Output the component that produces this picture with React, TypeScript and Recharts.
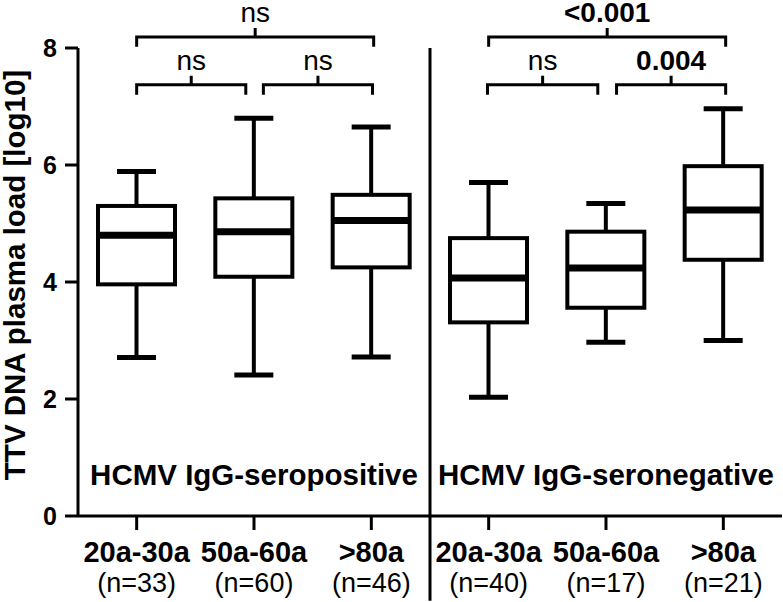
import React from "react";
import {
  ComposedChart, Bar, XAxis, YAxis, ReferenceLine, ReferenceArea, ReferenceDot,
} from "recharts";

// age groups, two serostatus panels
const ageGroups = ["20a-30a", "50a-60a", ">80a", "20a-30a", "50a-60a", ">80a"];
const nLabels = ["(n=33)", "(n=60)", "(n=46)", "(n=40)", "(n=17)", "(n=21)"];

// box plot values, TTV DNA log10
const mins    = [2.71, 2.41, 2.72, 2.03, 2.97, 3.0];
const q1s     = [3.96, 4.09, 4.25, 3.31, 3.56, 4.38];
const medians = [4.8, 4.86, 5.05, 4.07, 4.24, 5.23];
const q3s     = [5.3, 5.43, 5.49, 4.75, 4.86, 5.98];
const maxs    = [5.89, 6.8, 6.65, 5.7, 5.34, 6.96];

const yTicks = [0, 2, 4, 6, 8];

const panelLabels = ["HCMV IgG-seropositive", "HCMV IgG-seronegative"];

// significance brackets, x in group units (group i centred at i + 0.5)
const bracketFrom   = [0.5, 1.58, 0.5, 3.49, 4.59, 3.5];
const bracketTo     = [1.43, 2.51, 2.52, 4.43, 5.52, 5.52];
const bracketLevel  = [7.37, 7.37, 8.19, 7.37, 7.37, 8.19];
const bracketLabels = ["ns", "ns", "ns", "ns", "0.004", "<0.001"];
const bracketBold   = [false, false, false, false, true, true];

const data = ageGroups.map((age, i) => ({
  id: `g${i}`,
  pos: i + 0.5,
  age,
  n: nLabels[i],
  min: mins[i],
  q1: q1s[i],
  median: medians[i],
  q3: q3s[i],
  max: maxs[i],
}));

const FONT = "'Liberation Sans', Arial, sans-serif";

function BoxShape(props: any) {
  const { x, y, width, height, payload } = props;
  const { min, q1, median, q3, max } = payload;
  const py = (v: number) => y + ((max - v) / (max - min)) * height;
  const cx = x + width / 2;
  const cap = 19.5;
  return (
    <g>
      <line x1={cx} x2={cx} y1={py(max)} y2={py(q3)} stroke="#000" strokeWidth={4} />
      <line x1={cx} x2={cx} y1={py(q1)} y2={py(min)} stroke="#000" strokeWidth={4} />
      <line x1={cx - cap} x2={cx + cap} y1={py(max)} y2={py(max)} stroke="#000" strokeWidth={5} />
      <line x1={cx - cap} x2={cx + cap} y1={py(min)} y2={py(min)} stroke="#000" strokeWidth={5} />
      <rect x={x + 2} y={py(q3)} width={width - 4} height={py(q1) - py(q3)} fill="#fff" stroke="#000" strokeWidth={4} />
      <line x1={x + 2} x2={x + width - 2} y1={py(median)} y2={py(median)} stroke="#000" strokeWidth={7} />
    </g>
  );
}

function XTick(props: any) {
  const { x, y, payload } = props;
  const i = payload.index;
  return (
    <g transform={`translate(${x},${y})`}>
      <text textAnchor="middle" y={32} fontFamily={FONT} fontWeight="bold" fontSize={29} fill="#000">
        {ageGroups[i]}
      </text>
      <text textAnchor="middle" y={62} fontFamily={FONT} fontSize={27} fill="#000">
        {nLabels[i]}
      </text>
    </g>
  );
}

function bracketShape(label: string, bold: boolean) {
  return (props: any) => {
    const { x, y, width, height } = props;
    const cx = x + width / 2;
    return (
      <g>
        <path
          d={`M${x},${y + height} L${x},${y} L${x + width},${y} L${x + width},${y + height} M${cx},${y} L${cx},${y - 9}`}
          fill="none" stroke="#000" strokeWidth={3}
        />
        <text x={cx} y={y - 15} textAnchor="middle" fontFamily={FONT} fontSize={28}
          fontWeight={bold ? "bold" : "normal"} fill="#000">
          {label}
        </text>
      </g>
    );
  };
}

function panelText(label: string) {
  return (props: any) => (
    <text x={props.cx} y={props.cy} textAnchor="middle" fontFamily={FONT} fontSize={29.5} fontWeight="bold" fill="#000">
      {label}
    </text>
  );
}

export default function App() {
  return (
    <div style={{ position: "absolute", left: 0, top: 0, background: "#fff" }}>
      <ComposedChart width={783} height={602} data={data} margin={{ top: 48, right: 1, bottom: 0, left: 0 }}>
        <XAxis
          xAxisId="cat" dataKey="id" interval={0} height={86}
          tick={<XTick />} tickSize={14} tickMargin={0}
          axisLine={{ stroke: "#000", strokeWidth: 3 }} tickLine={{ stroke: "#000", strokeWidth: 3 }}
        />
        <XAxis xAxisId="n" type="number" dataKey="pos" domain={[0, 6]} allowDataOverflow hide />
        <YAxis
          domain={[0, 8]} ticks={yTicks} width={78} tickSize={13} tickMargin={8}
          axisLine={{ stroke: "#000", strokeWidth: 3 }} tickLine={{ stroke: "#000", strokeWidth: 3 }}
          tick={{ fontFamily: FONT, fontSize: 25, fontWeight: "bold", fill: "#000" }}
          label={({ viewBox }: any) => {
            const cx = viewBox.x + 25;
            const cy = viewBox.y + viewBox.height / 2 - 7;
            return (
              <text x={cx} y={cy} transform={`rotate(-90, ${cx}, ${cy})`} textAnchor="middle"
                fontFamily={FONT} fontSize={29.5} fontWeight="bold" fill="#000">
                TTV DNA plasma load [log10]
              </text>
            );
          }}
        />
        <ReferenceLine
          xAxisId="n" ifOverflow="visible" stroke="#000" strokeWidth={3}
          segment={[{ x: 3, y: 8 }, { x: 3, y: -1.45 }]}
        />
        <Bar
          xAxisId="cat" dataKey={(d: any) => [d.min, d.max]} barSize={81}
          shape={<BoxShape />} isAnimationActive={false}
        />
        {bracketFrom.map((from, i) => (
          <ReferenceArea
            key={`br${i}`} xAxisId="n" ifOverflow="visible"
            x1={from} x2={bracketTo[i]} y1={bracketLevel[i] - 0.17} y2={bracketLevel[i]}
            shape={bracketShape(bracketLabels[i], bracketBold[i])}
          />
        ))}
        {panelLabels.map((label, i) => (
          <ReferenceDot
            key={`pl${i}`} xAxisId="n" ifOverflow="visible" x={1.5 + 3 * i} y={0.53} r={0}
            shape={panelText(label)}
          />
        ))}
      </ComposedChart>
    </div>
  );
}
